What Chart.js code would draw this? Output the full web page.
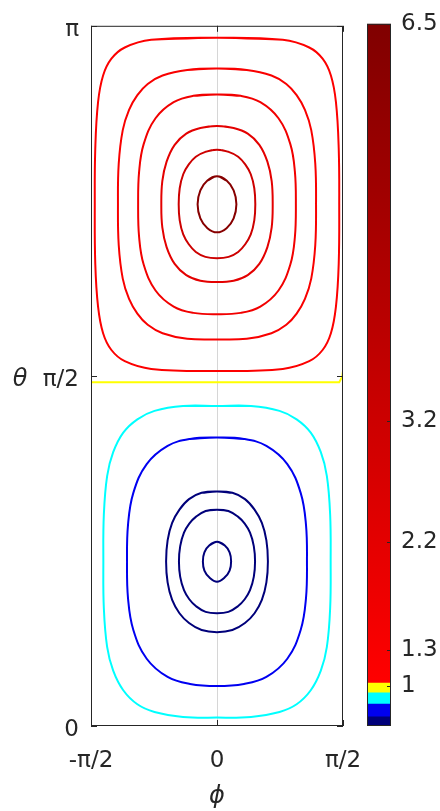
<!DOCTYPE html>
<html>
<head>
<meta charset="utf-8">
<script src="https://cdn.jsdelivr.net/npm/chart.js@4.4.1/dist/chart.umd.min.js"></script>
<style>
  html, body { margin: 0; padding: 0; background: #fff; }
  #wrap { position: relative; width: 440px; height: 811px; }
  #wrap canvas { position: absolute; top: 0; }
  #field { left: 0; }
  #colorbar { left: 340px; }
</style>
</head>
<body>
<div id="wrap">
  <canvas id="field" width="440" height="811"></canvas>
  <canvas id="colorbar" width="100" height="811"></canvas>
</div>
<script>
// angles are kept in units of pi
const phiTicks = [-0.5, 0, 0.5];
const phiTickLabels = ["-π/2", "0", "π/2"];
const thetaTicks = [0, 0.5, 1];
const thetaTickLabels = ["0", "π/2", "π"];

// colorbar
const cbTicks = [1, 1.3, 2.2, 3.2, 6.5];
const cbEdges = [0.67, 0.746, 0.851, 0.945, 1.027, 6.5];

// contour levels
const upperLevels = [1.1, 1.3, 1.6, 2.2, 3.2, 6.2];
const lowerLevels = [0.9, 0.8, 0.73, 0.71, 0.69];
const equatorLevel = 1;

// right halves of the closed contours, [phi/pi, theta/pi], from top to bottom
const up1 = [[0, 0.983], [0.261, 0.980], [0.366, 0.969], [0.419, 0.953], [0.452, 0.929], [0.472, 0.891], [0.483, 0.825],
             [0.485, 0.745], [0.483, 0.660], [0.472, 0.599], [0.452, 0.561], [0.419, 0.537], [0.366, 0.521], [0.261, 0.510], [0, 0.507]];
const up2 = [[0, 0.939], [0.118, 0.937], [0.216, 0.929], [0.275, 0.917], [0.316, 0.901], [0.349, 0.880], [0.374, 0.851], [0.390, 0.803],
             [0.393, 0.745], [0.390, 0.687], [0.374, 0.639], [0.349, 0.610], [0.316, 0.589], [0.275, 0.573], [0.216, 0.561], [0.118, 0.553], [0, 0.552]];
const up3 = [[0, 0.902], [0.094, 0.900], [0.172, 0.891], [0.244, 0.868], [0.291, 0.831], [0.309, 0.792], [0.313, 0.745],
             [0.309, 0.698], [0.291, 0.659], [0.244, 0.622], [0.172, 0.599], [0.094, 0.590], [0, 0.588]];
const up4 = [[0, 0.857], [0.066, 0.854], [0.122, 0.846], [0.168, 0.830], [0.200, 0.806], [0.217, 0.778], [0.221, 0.745],
             [0.217, 0.712], [0.200, 0.684], [0.168, 0.660], [0.122, 0.644], [0.066, 0.636], [0, 0.634]];
const up5 = [[0, 0.823], [0.046, 0.820], [0.084, 0.813], [0.112, 0.802], [0.134, 0.788], [0.148, 0.768], [0.152, 0.745],
             [0.148, 0.722], [0.134, 0.702], [0.112, 0.688], [0.084, 0.677], [0.046, 0.670], [0, 0.668]];
const up6 = [[0, 0.785], [0.038, 0.779], [0.066, 0.765], [0.077, 0.745], [0.066, 0.725], [0.038, 0.711], [0, 0.705]];

const lo1 = [[0, 0.457], [0.135, 0.457], [0.248, 0.450], [0.316, 0.438], [0.372, 0.419], [0.412, 0.391], [0.436, 0.357], [0.449, 0.302],
             [0.451, 0.235], [0.449, 0.168], [0.436, 0.113], [0.412, 0.079], [0.372, 0.051], [0.316, 0.031], [0.248, 0.020], [0.135, 0.013], [0, 0.012]];
const lo2 = [[0, 0.412], [0.107, 0.410], [0.196, 0.400], [0.279, 0.374], [0.332, 0.333], [0.353, 0.288], [0.357, 0.235],
             [0.353, 0.182], [0.332, 0.137], [0.279, 0.096], [0.196, 0.070], [0.107, 0.060], [0, 0.057]];
const lo3 = [[0, 0.335], [0.061, 0.333], [0.111, 0.324], [0.149, 0.309], [0.178, 0.290], [0.196, 0.265], [0.202, 0.235],
             [0.196, 0.205], [0.178, 0.180], [0.149, 0.161], [0.111, 0.147], [0.061, 0.137], [0, 0.134]];
const lo4 = [[0, 0.309], [0.045, 0.307], [0.083, 0.299], [0.110, 0.289], [0.131, 0.276], [0.146, 0.257], [0.151, 0.235],
             [0.146, 0.213], [0.131, 0.194], [0.110, 0.181], [0.083, 0.171], [0.045, 0.163], [0, 0.161]];
const lo5 = [[0, 0.263], [0.030, 0.258], [0.050, 0.248], [0.056, 0.235], [0.050, 0.222], [0.030, 0.212], [0, 0.206]];

// the level-1 contour along the equator
const equator = [[-0.5, 0.491], [0.485, 0.491], [0.497, 0.499], [0.5, 0.507]];

const upperHalves = [up1, up2, up3, up4, up5, up6];
const lowerHalves = [lo1, lo2, lo3, lo4, lo5];

const textColor = "#262626";
const fontFamily = "'DejaVu Sans', sans-serif";
const bandColors = ["#00007a", "#0000f0", "#00ffff", "#ffff00"];
const redLow = [255, 0, 0];
const redHigh = [128, 0, 0];

function levelColor(v) {
    for (let i = 0; i < bandColors.length; i++) {
        if (v < cbEdges[i + 1]) return bandColors[i];
    }
    const f = Math.min(1, (v - cbEdges[4]) / (cbEdges[5] - cbEdges[4]));
    const c = redLow.map((a, k) => Math.round(a + (redHigh[k] - a) * f));
    return `rgb(${c[0]},${c[1]},${c[2]})`;
}

// mirror the right half onto the left; wrap one point on each end so the spline closes smoothly
function closeLoop(half) {
    const left = half.slice(1, -1).reverse().map(([p, t]) => [-p, t]);
    const ring = half.concat(left);
    const pts = [ring[ring.length - 1]].concat(ring, [ring[0], ring[1]]);
    return pts.map(([p, t]) => ({ x: p, y: t }));
}

function contourSet(points, level, tension) {
    return {
        data: points,
        showLine: true,
        borderColor: levelColor(level),
        borderWidth: 2,
        pointRadius: 0,
        tension: tension,
        fill: false,
    };
}

const datasets = [];
upperHalves.forEach((h, i) => datasets.push(contourSet(closeLoop(h), upperLevels[i], 0.4)));
lowerHalves.forEach((h, i) => datasets.push(contourSet(closeLoop(h), lowerLevels[i], 0.4)));
datasets.push(contourSet(equator.map(([p, t]) => ({ x: p, y: t })), equatorLevel, 0));

const frame = {
    id: "frame",
    afterDraw(chart) {
        const { ctx, chartArea: a, scales: { x, y } } = chart;
        ctx.save();
        ctx.strokeStyle = textColor;
        ctx.lineWidth = 1;
        ctx.strokeRect(a.left + 0.5, a.top + 0.5, a.width - 1, a.height - 1);
        ctx.beginPath();
        phiTicks.forEach((v) => {
            const px = Math.round(x.getPixelForValue(v)) + 0.5;
            ctx.moveTo(px, a.bottom); ctx.lineTo(px, a.bottom - 6);
            ctx.moveTo(px, a.top); ctx.lineTo(px, a.top + 6);
        });
        thetaTicks.forEach((v) => {
            const py = Math.round(y.getPixelForValue(v)) + 0.5;
            ctx.moveTo(a.left, py); ctx.lineTo(a.left + 6, py);
            ctx.moveTo(a.right, py); ctx.lineTo(a.right - 6, py);
        });
        ctx.stroke();
        // horizontal y axis label
        ctx.fillStyle = textColor;
        ctx.font = "italic 24px " + fontFamily;
        ctx.textAlign = "center";
        ctx.textBaseline = "middle";
        ctx.fillText("θ", 20, y.getPixelForValue(0.5) + 4);
        ctx.restore();
    },
};

new Chart(document.getElementById("field"), {
    type: "scatter",
    data: { datasets: datasets },
    options: {
        responsive: false,
        animation: false,
        devicePixelRatio: 1,
        layout: { padding: { top: 20, right: 97, left: 0, bottom: 0 } },
        plugins: { legend: { display: false }, tooltip: { enabled: false } },
        scales: {
            x: {
                type: "linear",
                min: -0.5,
                max: 0.5,
                afterBuildTicks: (s) => { s.ticks = phiTicks.map((v) => ({ value: v })); },
                afterFit: (s) => { s.height = 85; },
                ticks: {
                    autoSkip: false,
                    padding: 21,
                    color: textColor,
                    font: { family: fontFamily, size: 23 },
                    callback: (v, i) => phiTickLabels[i],
                },
                grid: {
                    drawTicks: false,
                    lineWidth: 1,
                    color: (c) => (c.tick && c.tick.value === 0 ? "#d6d6d6" : "rgba(0,0,0,0)"),
                },
                border: { display: false },
                title: {
                    display: true,
                    text: "ϕ",
                    color: textColor,
                    padding: 0,
                    font: { family: fontFamily, size: 24, style: "italic" },
                },
            },
            y: {
                type: "linear",
                min: 0,
                max: 1,
                afterBuildTicks: (s) => { s.ticks = thetaTicks.map((v) => ({ value: v })); },
                afterFit: (s) => { s.width = 91; },
                ticks: {
                    autoSkip: false,
                    padding: 12,
                    labelOffset: 4,
                    color: textColor,
                    font: { family: fontFamily, size: 23 },
                    callback: (v, i) => thetaTickLabels[i],
                },
                grid: { display: false, drawTicks: false },
                border: { display: false },
            },
        },
    },
    plugins: [frame],
});

// colorbar
function redRamp(c) {
    const chart = c.chart;
    if (!chart.chartArea) return "rgb(255,0,0)";
    const y = chart.scales.y;
    const g = chart.ctx.createLinearGradient(0, y.getPixelForValue(cbEdges[4]), 0, y.getPixelForValue(cbEdges[5]));
    g.addColorStop(0, `rgb(${redLow.join(",")})`);
    g.addColorStop(1, `rgb(${redHigh.join(",")})`);
    return g;
}

const cbSets = cbEdges.slice(0, -1).map((lo, i) => ({
    data: [[lo, cbEdges[i + 1]]],
    backgroundColor: i < bandColors.length ? bandColors[i] : redRamp,
    borderWidth: 0,
    barPercentage: 1,
    categoryPercentage: 1,
    grouped: false,
}));

const cbFrame = {
    id: "cbFrame",
    afterDraw(chart) {
        const { ctx, chartArea: a, scales: { y } } = chart;
        ctx.save();
        ctx.strokeStyle = textColor;
        ctx.lineWidth = 1;
        ctx.strokeRect(a.left + 0.5, a.top + 0.5, a.width - 1, a.height - 1);
        ctx.beginPath();
        cbTicks.forEach((v) => {
            const py = Math.round(y.getPixelForValue(v)) + 0.5;
            ctx.moveTo(a.right, py); ctx.lineTo(a.right - 4, py);
        });
        ctx.stroke();
        ctx.restore();
    },
};

new Chart(document.getElementById("colorbar"), {
    type: "bar",
    data: { labels: ["level"], datasets: cbSets },
    options: {
        responsive: false,
        animation: false,
        devicePixelRatio: 1,
        layout: { padding: { left: 27, top: 20, bottom: 85, right: 0 } },
        plugins: { legend: { display: false }, tooltip: { enabled: false } },
        scales: {
            x: { display: false },
            y: {
                position: "right",
                min: cbEdges[0],
                max: cbEdges[5],
                afterBuildTicks: (s) => { s.ticks = cbTicks.map((v) => ({ value: v })); },
                afterFit: (s) => { s.width = 49; },
                ticks: {
                    autoSkip: false,
                    padding: 10,
                    color: textColor,
                    font: { family: fontFamily, size: 23 },
                    callback: (v) => String(v),
                },
                grid: { display: false, drawTicks: false },
                border: { display: false },
            },
        },
    },
    plugins: [cbFrame],
});
</script>
</body>
</html>
